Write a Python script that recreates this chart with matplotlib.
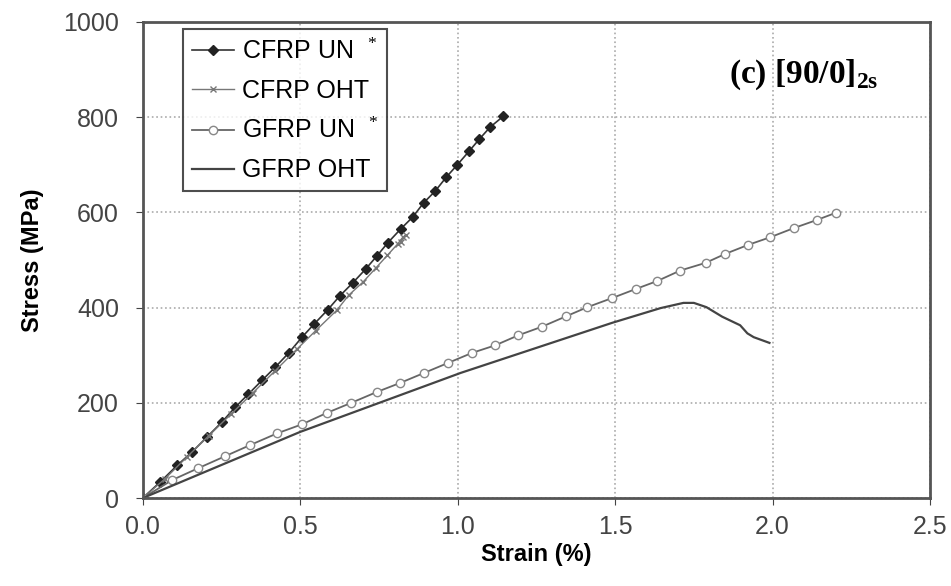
import matplotlib
matplotlib.use("Agg")
from matplotlib import pyplot as plt

# strain (%) and stress (MPa)
cfrp_un_x = [0.0, 0.056, 0.11, 0.157, 0.204, 0.252, 0.294, 0.335, 0.38, 0.421, 0.464,
             0.506, 0.545, 0.587, 0.625, 0.667, 0.708, 0.743, 0.778, 0.819, 0.857,
             0.892, 0.929, 0.964, 0.999, 1.037, 1.069, 1.103, 1.145]
cfrp_un_y = [0, 34, 69, 97, 128, 160, 191, 218, 248, 275, 305,
             338, 366, 395, 424, 452, 481, 508, 536, 565, 590,
             620, 645, 674, 700, 729, 754, 779, 802]

cfrp_oht_x = [0.0, 0.07, 0.14, 0.21, 0.28, 0.35, 0.42, 0.49, 0.55, 0.617, 0.654,
              0.70, 0.74, 0.777, 0.81, 0.826, 0.835, 0.82]
cfrp_oht_y = [0, 40, 86, 131, 176, 221, 267, 313, 352, 395, 426,
              454, 483, 510, 534, 548, 552, 538]

gfrp_un_x = [0.0, 0.094, 0.177, 0.262, 0.34, 0.427, 0.506, 0.585, 0.662, 0.744, 0.818,
             0.894, 0.97, 1.046, 1.12, 1.193, 1.268, 1.345, 1.412, 1.49, 1.565,
             1.634, 1.707, 1.787, 1.85, 1.923, 1.993, 2.067, 2.14, 2.2]
gfrp_un_y = [0, 38, 63, 88, 111, 136, 155, 179, 200, 223, 242,
             263, 284, 305, 321, 342, 360, 382, 401, 420, 439,
             456, 478, 494, 513, 532, 548, 567, 584, 599]

gfrp_oht_x = [0.0, 0.5, 1.01, 1.49, 1.644, 1.717, 1.75, 1.79, 1.84, 1.897, 1.92, 1.94, 1.99]
gfrp_oht_y = [0, 139, 263, 368, 399, 410, 410, 401, 381, 363, 346, 338, 326]

x_ticks = [0.0, 0.5, 1.0, 1.5, 2.0, 2.5]
y_ticks = [0, 200, 400, 600, 800, 1000]


def main():
    plt.rcParams['font.family'] = ['Liberation Sans', 'DejaVu Sans']
    plt.rcParams['mathtext.fontset'] = 'custom'
    plt.rcParams['mathtext.rm'] = 'Liberation Serif'
    plt.rcParams['mathtext.bf'] = 'Liberation Serif:bold'

    fig = plt.figure(figsize=(9.51, 5.86), dpi=100)
    ax = fig.add_axes([0.15, 0.15, 0.828, 0.8125])

    ax.plot(cfrp_un_x, cfrp_un_y, color='#333333', lw=1.2, marker='D', ms=5,
            mfc='#222222', mec='#222222', label='CFRP UN  $^{*}$')
    ax.plot(cfrp_oht_x, cfrp_oht_y, color='#777777', lw=1.0, marker='x', ms=4,
            mec='#777777', label='CFRP OHT')
    ax.plot(gfrp_un_x, gfrp_un_y, color='#666666', lw=1.3, marker='o', ms=6,
            mfc='white', mec='#888888', mew=1.0, label='GFRP UN  $^{*}$')
    ax.plot(gfrp_oht_x, gfrp_oht_y, color='#444444', lw=1.6, label='GFRP OHT')

    ax.set_xlim(0, 2.5)
    ax.set_ylim(0, 1000)
    ax.set_xticks(x_ticks)
    ax.set_xticklabels([f"{t:.1f}" for t in x_ticks])
    ax.set_yticks(y_ticks)
    ax.tick_params(labelsize=18, colors='#444444', direction='out', length=5)
    ax.tick_params(axis='y', pad=12)
    ax.tick_params(axis='x', pad=7)
    ax.grid(True, color='#aaaaaa', ls=':', lw=1.2)

    for side in ['left', 'bottom', 'right', 'top']:
        ax.spines[side].set_color('#555555')
        ax.spines[side].set_linewidth(2)

    ax.set_xlabel("Strain (%)", fontsize=17, fontweight='bold', labelpad=3)
    ax.set_ylabel("Stress (MPa)", fontsize=17, fontweight='bold', labelpad=14)

    ax.text(2.10, 889, r"(c) [90/0]$_{\mathbf{2s}}$", fontsize=24, fontweight='bold',
            family=['Liberation Serif', 'DejaVu Serif'], ha='center', va='center')

    leg = ax.legend(loc='upper left', bbox_to_anchor=(0.051, 0.985), fontsize=18,
                    frameon=True, fancybox=False, edgecolor='#222222',
                    handlelength=1.7, handletextpad=0.3, borderpad=0.35,
                    labelspacing=0.6, borderaxespad=0)
    leg.get_frame().set_linewidth(1.5)

    fig.savefig("out.png", dpi=100)


if __name__ == "__main__":
    main()
